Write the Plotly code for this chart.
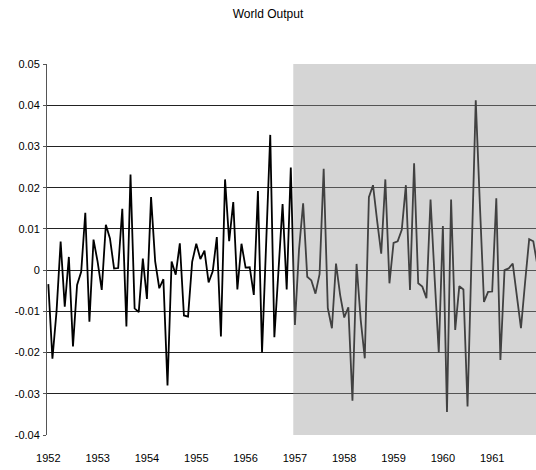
import plotly.graph_objects as go

title_text = "World Output"
years = ["1952", "1953", "1954", "1955", "1956", "1957", "1958", "1959", "1960", "1961"]
months_per_year = 12

output_values = [
    -0.0034, -0.0215, -0.0100, 0.0069, -0.0089, 0.0032, -0.0185, -0.0036, -0.0004, 0.0139, -0.0125, 0.0074,
    0.0020, -0.0048, 0.0110, 0.0077, 0.0004, 0.0005, 0.0149, -0.0137, 0.0232, -0.0093, -0.0102, 0.0028,
    -0.0070, 0.0177, 0.0021, -0.0044, -0.0022, -0.0280, 0.0021, -0.0011, 0.0065, -0.0110, -0.0113, 0.0020,
    0.0064, 0.0027, 0.0047, -0.0030, -0.0003, 0.0080, -0.0161, 0.0220, 0.0070, 0.0165, -0.0047, 0.0064,
    0.0006, 0.0007, -0.0060, 0.0192, -0.0200, 0.0060, 0.0328, -0.0163, 0.0000, 0.0160, -0.0047, 0.0249,
    -0.0133, 0.0050, 0.0162, -0.0016, -0.0025, -0.0057, -0.0010, 0.0246, -0.0092, -0.0141, 0.0016, -0.0060,
    -0.0115, -0.0090, -0.0317, 0.0015, -0.0120, -0.0214, 0.0177, 0.0206, 0.0120, 0.0040, 0.0220, -0.0032,
    0.0066, 0.0070, 0.0098, 0.0206, -0.0048, 0.0259, -0.0032, -0.0040, -0.0068, 0.0171, -0.0020, -0.0200,
    0.0107, -0.0344, 0.0171, -0.0145, -0.0039, -0.0047, -0.0331, 0.0010, 0.0412, 0.0160, -0.0077, -0.0053,
    -0.0052, 0.0174, -0.0218, 0.0000, 0.0004, 0.0016, -0.0060, -0.0141, -0.0030, 0.0075, 0.0070, 0.0012,
]

y_tick_vals = [0.05, 0.04, 0.03, 0.02, 0.01, 0, -0.01, -0.02, -0.03, -0.04]
y_tick_text = ["0.05", "0.04", "0.03", "0.02", "0.01", "0", "-0.01", "-0.02", "-0.03", "-0.04"]

shade_start = 59.6  # start of shaded period (early 1957)

x_idx = list(range(len(output_values)))
x_tick_vals = [i * months_per_year for i in range(len(years))]

font_family = "Liberation Sans, Arial, sans-serif"

W, H = 536, 470

fig = go.Figure()
fig.add_trace(go.Scatter(
    x=x_idx, y=output_values, mode="lines",
    line=dict(color="black", width=1.8),
    showlegend=False, hoverinfo="skip",
))

x_end = 118.66
fig.add_shape(type="rect", xref="x", yref="y domain",
              x0=shade_start, x1=x_end, y0=0, y1=1,
              fillcolor="#9a9a9a", opacity=0.42, line=dict(width=0), layer="above")

fig.update_layout(
    width=W, height=H,
    margin=dict(l=47, r=0, t=64, b=35),
    paper_bgcolor="white", plot_bgcolor="white",
    font=dict(family=font_family, size=11, color="black"),
    title=dict(text=title_text, x=0.5, xanchor="center", y=1 - 14 / H, yanchor="middle",
               yref="container", font=dict(family=font_family, size=12, color="black")),
)
fig.update_xaxes(
    range=[-0.32, x_end], tickmode="array", tickvals=x_tick_vals, ticktext=years,
    showgrid=False, zeroline=False, showline=False, ticks="",
    ticklabelstandoff=15,
)
fig.update_yaxes(
    range=[-0.04, 0.05], tickmode="array", tickvals=y_tick_vals, ticktext=y_tick_text,
    showgrid=True, gridcolor="#222222", gridwidth=1, zeroline=False,
    showline=True, linecolor="#555555", linewidth=1,
    ticks="outside", ticklen=3, tickcolor="#555555", ticklabelstandoff=1,
)

fig.write_html(
    "out.html",
    config={"displayModeBar": False},
    post_script="document.body.style.margin='0px'; document.body.style.overflow='hidden';",
)
